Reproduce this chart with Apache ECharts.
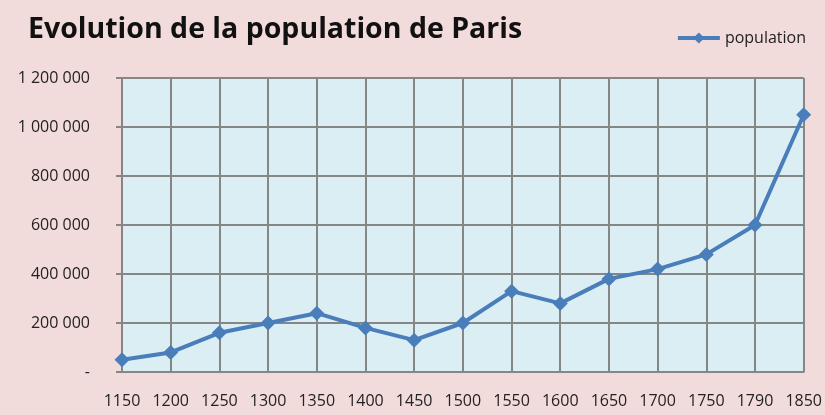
<!DOCTYPE html>
<html>
<head>
<meta charset="utf-8">
<script src="https://cdn.jsdelivr.net/npm/echarts@6/dist/echarts.min.js"></script>
<style>
  html, body { margin: 0; padding: 0; background: #f2dcdb; }
  #chart { width: 825px; height: 415px; }
</style>
</head>
<body>
<div id="chart"></div>
<script>
// années (catégories)
const years = ['1150', '1200', '1250', '1300', '1350', '1400', '1450', '1500',
  '1550', '1600', '1650', '1700', '1750', '1790', '1850']
// population estimée
const population = [50000, 80000, 160000, 200000, 240000, 180000, 130000, 200000,
  330000, 280000, 380000, 420000, 480000, 600000, 1050000]

// format "1 200 000", zéro -> "-"
function fmt(v) {
  if (v === 0) return '-'
  return String(v).replace(/\B(?=(\d{3})+(?!\d))/g, ' ')
}

const chart = echarts.init(document.getElementById('chart'))
chart.setOption({
  backgroundColor: '#f2dcdb',
  textStyle: { fontFamily: 'Open Sans' },
  title: {
    text: 'Evolution de la population de Paris',
    left: 23,
    top: 10,
    textStyle: { fontSize: 28.5, fontWeight: 'bold', color: '#111', fontFamily: 'Open Sans' }
  },
  legend: {
    right: 14,
    top: 25,
    itemWidth: 42,
    itemHeight: 14,
    itemGap: 2,
    lineStyle: { width: 4 },
    textStyle: { fontSize: 16, color: '#222' },
    data: ['population']
  },
  grid: {
    left: 122,
    right: 12,
    top: 78,
    bottom: 43,
    show: true,
    backgroundColor: '#dbeef4',
    borderWidth: 0
  },
  xAxis: {
    type: 'category',
    data: years,
    boundaryGap: false,
    axisLine: { lineStyle: { color: '#868686', width: 2 } },
    axisTick: { show: false },
    axisLabel: { color: '#222', fontSize: 16, margin: 21 },
    splitLine: { show: true, lineStyle: { color: '#868686', width: 2 } }
  },
  yAxis: {
    type: 'value',
    min: 0,
    max: 1200000,
    interval: 200000,
    axisLine: { show: true, lineStyle: { color: '#868686', width: 2 } },
    axisTick: { show: true, length: 6, lineStyle: { color: '#868686', width: 2 } },
    axisLabel: { color: '#222', fontSize: 16, margin: 32, formatter: fmt },
    splitLine: { show: true, lineStyle: { color: '#868686', width: 2 } }
  },
  series: [
    {
      name: 'population',
      type: 'line',
      data: population,
      symbol: 'diamond',
      symbolSize: 15,
      color: '#4a7ebb',
      lineStyle: { width: 4, color: '#4a7ebb' },
      itemStyle: { color: '#4a7ebb' },
      clip: false,
      animation: false
    }
  ]
})
</script>
</body>
</html>
